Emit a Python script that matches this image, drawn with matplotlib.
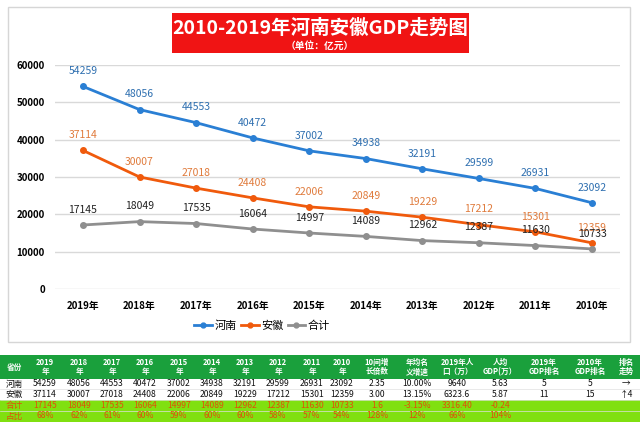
import matplotlib
matplotlib.use('Agg')
import matplotlib.pyplot as plt
from matplotlib.patches import Rectangle
from matplotlib.lines import Line2D

plt.rcParams['font.family'] = ['Noto Sans CJK SC', 'DejaVu Sans']

# Données (unité : 亿元)
years = ['2019年', '2018年', '2017年', '2016年', '2015年',
         '2014年', '2013年', '2012年', '2011年', '2010年']
henan = [54259, 48056, 44553, 40472, 37002, 34938, 32191, 29599, 26931, 23092]
anhui = [37114, 30007, 27018, 24408, 22006, 20849, 19229, 17212, 15301, 12359]
diff = [17145, 18049, 17535, 16064, 14997, 14089, 12962, 12387, 11630, 10733]
share = ['68%', '62%', '61%', '60%', '59%', '60%', '60%', '58%', '57%', '54%']

# Tableau du bas
table_header = ['省份', '2019\n年', '2018\n年', '2017\n年', '2016\n年', '2015\n年',
                '2014\n年', '2013\n年', '2012\n年', '2011\n年', '2010\n年',
                '10间增\n长倍数', '年均名\n义增速', '2019年人\n口（万）', '人均\nGDP(万）',
                '2019年\nGDP排名', '2010年\nGDP排名', '排名\n走势']
henan_extra = ['2.35', '10.00%', '9640', '5.63', '5', '5', '→']
anhui_extra = ['3.00', '13.15%', '6323.6', '5.87', '11', '15', '↑4']
diff_extra = ['1.6', '-3.15%', '3316.40', '-0.24', '', '', '']
share_extra = ['128%', '12%', '66%', '104%', '', '', '']

BLUE = '#2a7fd4'
ORANGE = '#f05a0c'
GRAY = '#8f8f8f'

fig = plt.figure(figsize=(6.4, 4.22), dpi=100)

# calque de fond en pixels (y vers le bas)
bg = fig.add_axes([0, 0, 1, 1])
bg.set_xlim(0, 640)
bg.set_ylim(422, 0)
bg.axis('off')

# cadre du graphique
bg.add_patch(Rectangle((8, 7), 622, 335, facecolor='white',
                       edgecolor='#d6d6d6', linewidth=1))

# titre
bg.add_patch(Rectangle((172, 13), 297, 40, facecolor='#f01414', edgecolor='none'))
bg.text(320, 28, '2010-2019年河南安徽GDP走势图', color='white', fontsize=14,
        fontweight='bold', ha='center', va='center')
bg.text(320, 46, '（单位：亿元）', color='white', fontsize=7,
        fontweight='bold', ha='center', va='center')

# graphique
ax = fig.add_axes([54.7 / 640, (422 - 289) / 422, 565.6 / 640, 224 / 422])
ax.set_facecolor('none')
x = list(range(len(years)))
series = [(henan, BLUE, '#2e6fb0', '河南'),
          (anhui, ORANGE, '#e07b3c', '安徽'),
          (diff, GRAY, '#222222', '合计')]
for vals, col, lab_col, name in series:
    ax.plot(x, vals, color=col, linewidth=2, marker='o', markersize=4,
            label=name, zorder=3)
    for xi, v in zip(x, vals):
        ax.annotate(str(v), (xi, v), xytext=(0, 11), textcoords='offset points',
                    ha='center', va='center', fontsize=7.5, color=lab_col, zorder=4)

ax.set_xlim(-0.5, 9.5)
ax.set_ylim(0, 60000)
ax.set_yticks(range(0, 60001, 10000))
ax.set_xticks(x)
ax.set_xticklabels(years)
ax.grid(axis='y', color='#d9d9d9', linewidth=1)
ax.set_axisbelow(True)
for s in ax.spines.values():
    s.set_visible(False)
ax.tick_params(length=0)
ax.tick_params(axis='y', pad=7)
ax.tick_params(axis='x', pad=9)
for t in ax.get_yticklabels() + ax.get_xticklabels():
    t.set_fontweight('bold')
    t.set_fontsize(7)

handles = [Line2D([0], [0], color=c, linewidth=2, marker='o', markersize=3.5)
           for _, c, _, _ in series]
ax.legend(handles, [s[3] for s in series], loc='center',
          bbox_to_anchor=(262 / 640, (422 - 326) / 422), bbox_transform=fig.transFigure,
          ncol=3, frameon=False, fontsize=8, handlelength=1.6, handletextpad=0.2,
          columnspacing=0.4)

# tableau
col_x = [14, 45, 79, 112, 145, 179, 212, 245, 278, 312, 342,
         377, 417, 457, 500, 544, 590, 626]
bg.add_patch(Rectangle((0, 355), 640, 24, facecolor='#1aa03c', edgecolor='none'))
bg.add_patch(Rectangle((0, 379), 640, 21, facecolor='white', edgecolor='none'))
bg.add_patch(Rectangle((0, 400), 640, 22, facecolor='#80e010', edgecolor='none'))
for yl in [389, 400, 411]:
    bg.plot([0, 640], [yl, yl], color='#e0e0e0', linewidth=0.5)

for cx, h in zip(col_x, table_header):
    bg.text(cx, 367, h, color='white', fontsize=5.5, fontweight='bold',
            ha='center', va='center', linespacing=1.1)

rows = [
    (['河南'] + [str(v) for v in henan] + henan_extra, 384, '#111111'),
    (['安徽'] + [str(v) for v in anhui] + anhui_extra, 394.5, '#111111'),
    (['合计'] + [str(v) for v in diff] + diff_extra, 405.5, '#e0500a'),
    (['占比'] + share + share_extra, 416, '#e0500a'),
]
for cells, yc, tc in rows:
    for cx, c in zip(col_x, cells):
        bg.text(cx, yc, c, color=tc, fontsize=6.2, ha='center', va='center')

fig.savefig('out.png', dpi=100)
